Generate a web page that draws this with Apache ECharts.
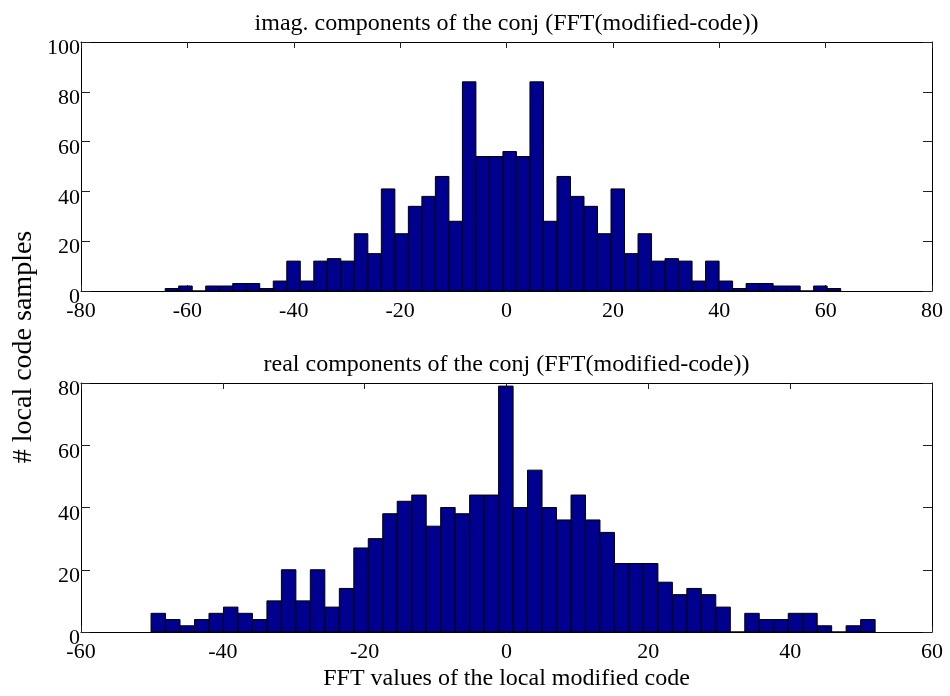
<!DOCTYPE html>
<html>
<head>
<meta charset="utf-8">
<script src="https://cdn.jsdelivr.net/npm/echarts@6/dist/echarts.min.js"></script>
<style>
  html, body { margin: 0; padding: 0; background: #fff; }
  #chart { width: 950px; height: 696px; }
</style>
</head>
<body>
<div id="chart"></div>
<script>
// Histogram of the imaginary parts: bin centres and counts
const imagCenters = [-62.90, -60.36, -57.82, -55.28, -52.74, -50.20, -47.66, -45.12, -42.58, -40.04,
  -37.50, -34.96, -32.42, -29.88, -27.34, -24.80, -22.26, -19.72, -17.18, -14.64,
  -12.10, -9.56, -7.02, -4.48, -1.94, 0.60, 3.14, 5.68, 8.22, 10.76,
  13.30, 15.84, 18.38, 20.92, 23.46, 26.00, 28.54, 31.08, 33.62, 36.16,
  38.70, 41.24, 43.78, 46.32, 48.86, 51.40, 53.94, 56.48, 59.02, 61.56];
const imagCounts = [1, 2, 0, 2, 2, 3, 3, 1, 4, 12,
  4, 12, 13, 12, 23, 15, 41, 23, 34, 38,
  46, 28, 84, 54, 54, 56, 54, 84, 28, 46,
  38, 34, 23, 41, 15, 23, 12, 13, 12, 4,
  12, 4, 1, 3, 3, 2, 2, 0, 2, 1];
const imagBinWidth = 2.54;

// Histogram of the real parts: bin centres and counts
const realCenters = [-49.10, -47.06, -45.02, -42.97, -40.93, -38.89, -36.85, -34.81, -32.76, -30.72,
  -28.68, -26.64, -24.60, -22.55, -20.51, -18.47, -16.43, -14.39, -12.34, -10.30,
  -8.26, -6.22, -4.18, -2.13, -0.09, 1.95, 3.99, 6.03, 8.07, 10.12,
  12.16, 14.20, 16.24, 18.28, 20.33, 22.37, 24.41, 26.45, 28.49, 30.54,
  32.58, 34.62, 36.66, 38.70, 40.75, 42.79, 44.83, 46.87, 48.91, 50.96];
const realCounts = [6, 4, 2, 4, 6, 8, 6, 4, 10, 20,
  10, 20, 8, 14, 27, 30, 38, 42, 44, 34,
  40, 38, 44, 44, 79, 40, 52, 40, 36, 44,
  36, 32, 22, 22, 22, 16, 12, 14, 12, 8,
  0, 6, 4, 4, 6, 6, 2, 0, 2, 4];
const realBinWidth = 2.042;

// Axis ranges and tick steps
const imagXRange = [-80, 80];
const imagYRange = [0, 100];
const realXRange = [-60, 60];
const realYRange = [0, 80];
const tickStep = 20;

const titles = [
  'imag. components of the conj (FFT(modified-code))',
  'real components of the conj (FFT(modified-code))'
];
const xLabel = 'FFT values of the local modified code';
const yLabel = '# local code samples';

const FONT = '"Liberation Serif", "Times New Roman", serif';
const BAR_FILL = '#00008F';

function binData(centers, counts, width) {
  return centers.map((c, i) => [c, counts[i], width]);
}

// Each bin is a rectangle spanning [centre - w/2, centre + w/2] from 0 up to its count
function renderBin(params, api) {
  const c = api.value(0), v = api.value(1), w = api.value(2);
  const topLeft = api.coord([c - w / 2, v]);
  const bottomRight = api.coord([c + w / 2, 0]);
  return {
    type: 'rect',
    shape: {
      x: topLeft[0], y: topLeft[1],
      width: bottomRight[0] - topLeft[0],
      height: bottomRight[1] - topLeft[1]
    },
    style: { fill: BAR_FILL, stroke: '#000', lineWidth: 1 }
  };
}

function xAxes(gridIndex, range) {
  const base = {
    gridIndex, type: 'value', min: range[0], max: range[1], interval: tickStep,
    axisLine: { show: true, onZero: false, lineStyle: { color: '#000', width: 1 } },
    axisTick: { show: true, inside: true, length: 6, lineStyle: { color: '#222' } },
    splitLine: { show: false }
  };
  return [
    Object.assign({}, base, {
      position: 'bottom',
      axisLabel: { show: true, margin: 9, color: '#000', fontFamily: FONT, fontSize: 22, showMinLabel: true, showMaxLabel: true }
    }),
    Object.assign({}, base, { position: 'top', axisLabel: { show: false } })
  ];
}

// Tick labels on the value axis sit slightly below their ticks
function yAxes(gridIndex, range) {
  const base = {
    gridIndex, type: 'value', min: range[0], max: range[1], interval: tickStep,
    axisLine: { show: true, onZero: false, lineStyle: { color: '#000', width: 1 } },
    axisTick: { show: true, inside: true, length: 9, lineStyle: { color: '#222' } },
    splitLine: { show: false }
  };
  return [
    Object.assign({}, base, {
      position: 'left',
      axisLabel: {
        show: true, margin: 1, color: '#000', fontFamily: FONT, fontSize: 22,
        verticalAlign: 'top', lineHeight: 13, showMinLabel: true, showMaxLabel: true
      }
    }),
    Object.assign({}, base, { position: 'right', axisLabel: { show: false } })
  ];
}

const chart = echarts.init(document.getElementById('chart'), null, { renderer: 'canvas' });

chart.setOption({
  animation: false,
  backgroundColor: '#fff',
  grid: [
    { left: 81, top: 42, width: 851, height: 249 },
    { left: 81, top: 383, width: 851, height: 249 }
  ],
  xAxis: [...xAxes(0, imagXRange), ...xAxes(1, realXRange)],
  yAxis: [...yAxes(0, imagYRange), ...yAxes(1, realYRange)],
  series: [
    {
      type: 'custom', name: 'imag', xAxisIndex: 0, yAxisIndex: 0,
      renderItem: renderBin,
      data: binData(imagCenters, imagCounts, imagBinWidth)
    },
    {
      type: 'custom', name: 'real', xAxisIndex: 2, yAxisIndex: 2,
      renderItem: renderBin,
      data: binData(realCenters, realCounts, realBinWidth)
    }
  ],
  graphic: [
    {
      type: 'text', x: 506.5, y: 24, silent: true,
      style: { text: titles[0], fill: '#000', font: '24px ' + FONT, align: 'center', verticalAlign: 'middle' }
    },
    {
      type: 'text', x: 506.5, y: 365, silent: true,
      style: { text: titles[1], fill: '#000', font: '24px ' + FONT, align: 'center', verticalAlign: 'middle' }
    },
    {
      type: 'text', x: 506.5, y: 679, silent: true,
      style: { text: xLabel, fill: '#000', font: '24px ' + FONT, align: 'center', verticalAlign: 'middle' }
    },
    {
      type: 'text', x: 23.5, y: 347, rotation: Math.PI / 2, silent: true,
      style: { text: yLabel, fill: '#000', font: '28px ' + FONT, align: 'center', verticalAlign: 'middle' }
    }
  ]
});
</script>
</body>
</html>
